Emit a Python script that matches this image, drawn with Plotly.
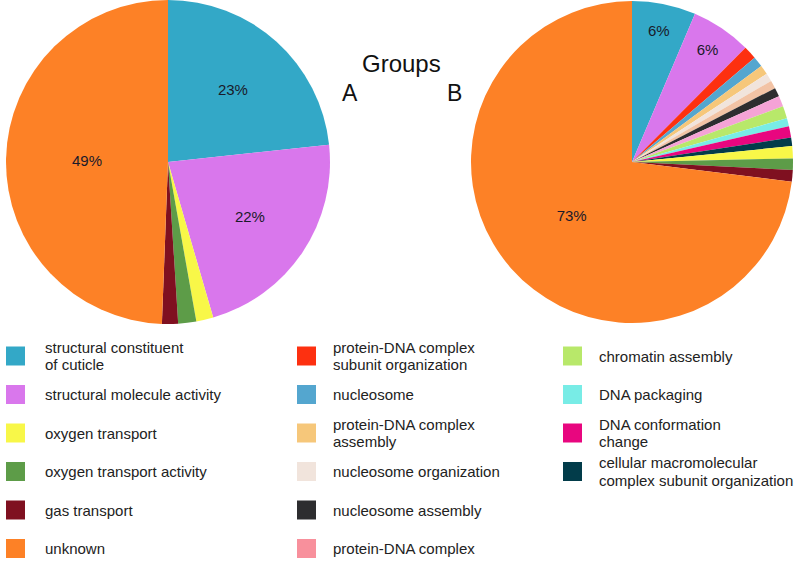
import plotly.graph_objects as go

W, H = 800, 563

# ---- data ----
groups = ["A", "B"]

labels_A = ["structural constituent of cuticle", "structural molecule activity",
            "oxygen transport", "oxygen transport activity", "gas transport", "unknown"]
values_A = [23.3, 22.2, 1.7, 1.8, 1.6, 49.4]

labels_B = ["structural constituent of cuticle", "structural molecule activity",
            "protein-DNA complex subunit organization", "nucleosome",
            "protein-DNA complex assembly", "nucleosome organization", "unlisted",
            "nucleosome assembly", "protein-DNA complex", "chromatin assembly",
            "DNA packaging", "DNA conformation change",
            "cellular macromolecular complex subunit organization",
            "oxygen transport", "oxygen transport activity", "gas transport", "unknown"]
values_B = [6.4, 6.05, 1.33, 1.06, 0.94, 0.83, 0.81, 0.89, 1.06, 1.25,
            0.81, 1.14, 0.86, 1.22, 1.14, 1.17, 73.06]

colors = {
    "structural constituent of cuticle": "#33a8c7",
    "structural molecule activity": "#d977ec",
    "oxygen transport": "#f8f748",
    "oxygen transport activity": "#5d9c48",
    "gas transport": "#7f1020",
    "unknown": "#fd8126",
    "protein-DNA complex subunit organization": "#fd3010",
    "nucleosome": "#54a6cf",
    "protein-DNA complex assembly": "#f6c77a",
    "nucleosome organization": "#f1e4dc",
    "unlisted": "#f2c3a5",
    "nucleosome assembly": "#2d2d2f",
    "protein-DNA complex": "#f5a3d6",
    "chromatin assembly": "#b8e86a",
    "DNA packaging": "#78ece6",
    "DNA conformation change": "#e8067f",
    "cellular macromolecular complex subunit organization": "#023c4a",
}

legend_columns = [
    ["structural constituent of cuticle", "structural molecule activity",
     "oxygen transport", "oxygen transport activity", "gas transport", "unknown"],
    ["protein-DNA complex subunit organization", "nucleosome",
     "protein-DNA complex assembly", "nucleosome organization",
     "nucleosome assembly", "protein-DNA complex"],
    ["chromatin assembly", "DNA packaging", "DNA conformation change",
     "cellular macromolecular complex subunit organization"],
]
legend_lines = {
    "structural constituent of cuticle": ["structural constituent", "of cuticle"],
    "protein-DNA complex subunit organization": ["protein-DNA complex", "subunit organization"],
    "protein-DNA complex assembly": ["protein-DNA complex", "assembly"],
    "DNA conformation change": ["DNA conformation", "change"],
    "cellular macromolecular complex subunit organization": ["cellular macromolecular", "complex subunit organization"],
}
legend_swatch = dict(colors)
legend_swatch["protein-DNA complex"] = "#f8909c"

title_text = "Groups"

# ---- layout helpers ----
def px_x(x):
    return x / W

def px_y(y):
    return 1 - y / H

def big_text(vals):
    tot = sum(vals)
    return [f"{round(v / tot * 100)}%" if v / tot >= 0.05 else "" for v in vals]

fig = go.Figure()

pies = [
    (labels_A, values_A, (6, 330), (0, 324)),
    (labels_B, values_B, (471, 793), (1, 323)),
]
for labs, vals, (x0, x1), (y0, y1) in pies:
    fig.add_trace(go.Pie(
        labels=labs, values=vals, sort=False, direction="clockwise", rotation=0,
        marker=dict(colors=[colors[l] for l in labs], line=dict(width=0)),
        text=big_text(vals), textinfo="text", textposition="inside",
        insidetextorientation="horizontal",
        textfont=dict(family="Liberation Sans, Arial, sans-serif", size=15, color="#1a1a2a"),
        domain=dict(x=[px_x(x0), px_x(x1)], y=[px_y(y1), px_y(y0)]),
        showlegend=False, hoverinfo="label+percent",
    ))

annotations = [
    dict(text=title_text, x=px_x(401), y=px_y(64), xref="paper", yref="paper",
         showarrow=False, font=dict(size=24, color="#111"), xanchor="center", yanchor="middle"),
    dict(text=groups[0], x=px_x(350), y=px_y(93), xref="paper", yref="paper",
         showarrow=False, font=dict(size=23, color="#111"), xanchor="center", yanchor="middle"),
    dict(text=groups[1], x=px_x(454), y=px_y(93), xref="paper", yref="paper",
         showarrow=False, font=dict(size=23, color="#111"), xanchor="center", yanchor="middle"),
]
shapes = []

col_sq_x = [6, 297, 563]
col_tx_x = [43, 331, 597]
row_y0 = 356
row_dy = 38.5
line_gap = 17.5
for ci, col in enumerate(legend_columns):
    for ri, name in enumerate(col):
        cy = row_y0 + ri * row_dy
        sx = col_sq_x[ci]
        shapes.append(dict(type="rect", xref="paper", yref="paper",
                           x0=px_x(sx), x1=px_x(sx + 19),
                           y0=px_y(cy + 9.5), y1=px_y(cy - 9.5),
                           fillcolor=legend_swatch[name], line=dict(width=0)))
        lines = legend_lines.get(name, [name])
        n = len(lines)
        for li, txt in enumerate(lines):
            ly = cy + (li - (n - 1) / 2) * line_gap
            annotations.append(dict(
                text=txt, x=px_x(col_tx_x[ci]), y=px_y(ly),
                xref="paper", yref="paper", showarrow=False, align="left",
                xanchor="left", yanchor="middle",
                font=dict(size=15, color="#222")))

fig.update_layout(
    width=W, height=H, margin=dict(l=0, r=0, t=0, b=0),
    paper_bgcolor="white", plot_bgcolor="white",
    font=dict(family="Liberation Sans, Arial, sans-serif"),
    annotations=annotations, shapes=shapes,
)

fig.write_html("out.html", config={"displayModeBar": False},
               post_script="document.body.style.margin='0';document.body.style.overflow='hidden';")
